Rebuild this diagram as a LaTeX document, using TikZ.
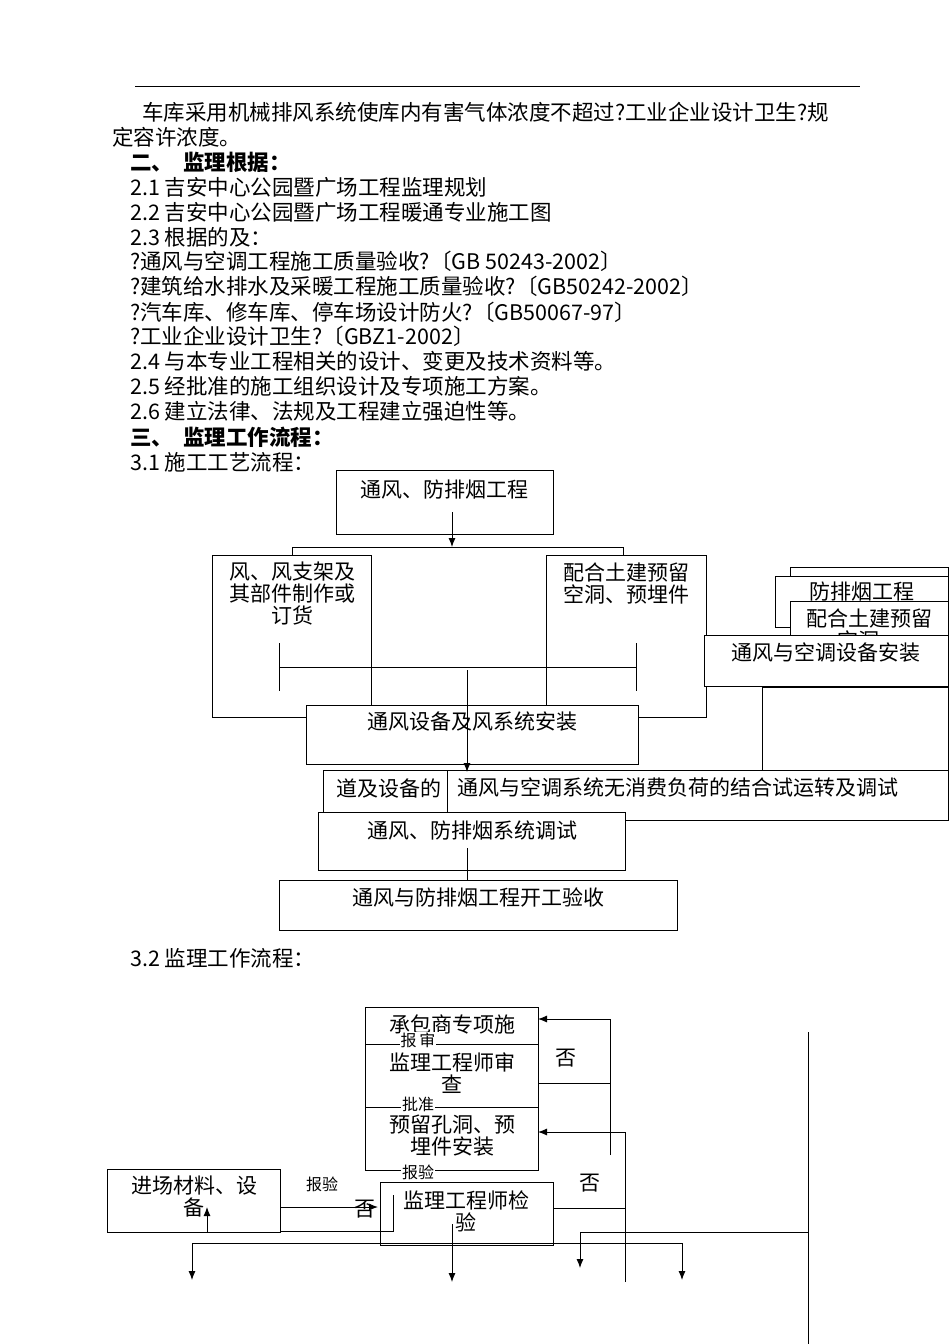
\documentclass[tikz,border=0pt]{standalone}
\usepackage{fontspec}
\usetikzlibrary{arrows.meta}
\setmainfont{Noto Sans CJK SC}
\begin{document}
\begin{tikzpicture}[x=1pt,y=-1pt,
  bx/.style={draw,line width=0.9pt,fill=white},
  tx/.style={font=\fontsize{21}{22}\selectfont,inner sep=0pt,align=center},
  sm/.style={font=\fontsize{16}{19}\selectfont,inner sep=1pt,fill=white},
  bd/.style={font=\fontsize{21.5}{22}\selectfont\bfseries,anchor=west,inner sep=0pt},
  ln/.style={font=\fontsize{21.5}{22}\selectfont,anchor=west,inner sep=0pt},
  ar/.style={-{Latex[length=9pt,width=7pt]},line width=0.9pt},
  li/.style={line width=0.9pt}]
\useasboundingbox (0,0) rectangle (950,1344);
\draw[li] (135,86) -- (860,86);
\node[ln] (t1) at (142,112) {车库采用机械排风系统使库内有害气体浓度不超过?工业企业设计卫生?规};
\node[ln] (t2) at (112,137) {定容许浓度。};
\node[bd] (t3) at (130,162) {二、\ \ 监理根据：};
\node[ln] (t4) at (130,187) {2.1 吉安中心公园暨广场工程监理规划};
\node[ln] (t5) at (130,212) {2.2 吉安中心公园暨广场工程暖通专业施工图};
\node[ln] (t6) at (130,237) {2.3 根据的及：};
\node[ln] (t7) at (130,261) {?通风与空调工程施工质量验收?〔GB 50243-2002〕};
\node[ln] (t8) at (130,286) {?建筑给水排水及采暖工程施工质量验收?〔GB50242-2002〕};
\node[ln] (t9) at (130,312) {?汽车库、修车库、停车场设计防火?〔GB50067-97〕};
\node[ln] (t10) at (130,336) {?工业企业设计卫生?〔GBZ1-2002〕};
\node[ln] (t11) at (130,361) {2.4 与本专业工程相关的设计、变更及技术资料等。};
\node[ln] (t12) at (130,386) {2.5 经批准的施工组织设计及专项施工方案。};
\node[ln] (t13) at (130,411) {2.6 建立法律、法规及工程建立强迫性等。};
\node[bd] (t14) at (130,437) {三、\ \ 监理工作流程：};
\node[ln] (t15) at (130,462) {3.1 施工工艺流程：};
\node[ln] (t16) at (130,958) {3.2 监理工作流程：};
% 3.1
\draw[bx] (336,470) rectangle (553,534);
\node[tx] (a) at (444,490) {通风、防排烟工程};
\coordinate (a1) at (452,512); \coordinate (a2) at (452,547);
\draw[ar] (a1) -- (a2);
\draw[li] (292,555) -- (292,547) -- (623,547) -- (623,555);
\draw[bx] (212,555) rectangle (371,717);
\node[tx] (b) at (292,594) {风、风支架及\\其部件制作或\\订货};
\draw[bx] (546,555) rectangle (706,717);
\node[tx] (c) at (626,583) {配合土建预留\\空洞、预埋件};
\draw[li] (279,643) -- (279,691) (636,643) -- (636,691) (279,667) -- (636,667);
% right cluster
\draw[bx] (790,567) rectangle (948,640);
\draw[bx] (775,576) rectangle (948,627);
\node[tx] (r2) at (862,592) {防排烟工程};
\draw[bx] (790,601) rectangle (948,660);
\node[tx] (r3) at (869,629) {配合土建预留\\空洞、};
\draw[li] (762,687) rectangle (948,770);
\draw[bx] (704,635) rectangle (948,686);
\node[tx] (r4) at (826,653) {通风与空调设备安装};
\draw[bx] (306,705) rectangle (638,764);
\node[tx] (d) at (472,722) {通风设备及风系统安装};
\draw[bx] (323,770) rectangle (600,812);
\node[tx,anchor=west] (e) at (336,788) {道及设备的};
\draw[bx] (447,770) rectangle (948,820);
\node[tx,anchor=west] (f) at (457,787) {通风与空调系统无消费负荷的结合试运转及调试};
\coordinate (d1) at (467,670); \coordinate (d2) at (467,772);
\draw[ar] (d1) -- (d2);
\draw[bx] (318,812) rectangle (625,870);
\node[tx] (g) at (472,830) {通风、防排烟系统调试};
\draw[bx] (279,880) rectangle (677,930);
\node[tx] (h) at (478,897) {通风与防排烟工程开工验收};
\draw[li] (467,848) -- (467,880);
% 3.2
\draw[bx] (365,1007) rectangle (538,1044);
\node[tx] (p1) at (452,1024) {承包商专项施};
\draw[bx] (365,1044) rectangle (538,1107);
\node[tx] (p2) at (452,1073) {监理工程师审\\查};
\draw[bx] (365,1107) rectangle (538,1170);
\node[tx] (p3) at (452,1136) {预留孔洞、预\\埋件安装};
\draw[bx] (380,1182) rectangle (553,1245);
\node[tx] (p4) at (466,1211) {监理工程师检\\验};
\node[sm] (l1) at (418,1040) {报\,审};
\node[sm] (l2) at (418,1104) {批准};
\node[sm] (l3) at (418,1172) {报验};
\coordinate (v1) at (452,1224); \coordinate (v2) at (452,1282);
\draw[ar] (v1) -- (v2);
\coordinate (q1) at (610,1155); \coordinate (q2) at (610,1019);
\draw[li] (q1) -- (q2);
\draw[ar] (q2) -- (538,1019);
\draw[li] (538,1083) -- (610,1083);
\node[tx] (n1) at (566,1058) {否};
\draw[li] (553,1208) -- (625,1208);
\draw[li] (625,1282) -- (625,1132);
\draw[ar] (625,1132) -- (538,1132);
\node[tx] (n2) at (590,1183) {否};
\draw[li] (808,1232) -- (580,1232);
\draw[ar] (580,1232) -- (580,1268);
\draw[li] (808,1032) -- (808,1344);
\draw[li] (192,1243) -- (682,1243);
\draw[ar] (192,1243) -- (192,1280);
\draw[ar] (682,1243) -- (682,1280);
\draw[bx] (107,1169) rectangle (280,1232);
\node[tx] (q) at (194,1197) {进场材料、设\\备};
\draw[ar] (207,1232) -- (207,1207);
\node[sm,fill=none] (l4) at (322,1184) {报验};
\draw[ar] (280,1207) -- (378,1207);
\node[tx] (n3) at (365,1209) {否};
\draw[li] (280,1231) -- (393,1231) -- (393,1195);
\end{tikzpicture}
\end{document}
